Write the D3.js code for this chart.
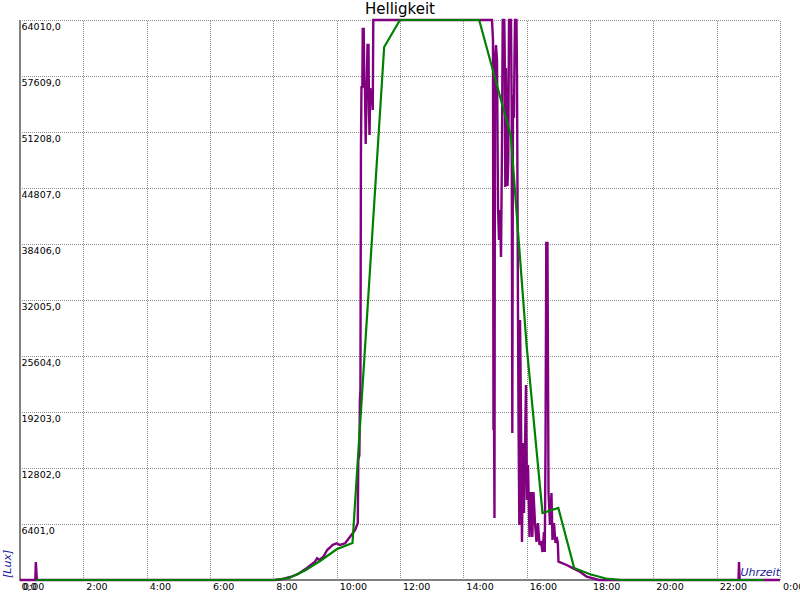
<!DOCTYPE html>
<html>
<head>
<meta charset="utf-8">
<script src="https://cdn.jsdelivr.net/npm/d3@7"></script>
<style>
  html, body { margin: 0; padding: 0; background: #ffffff; }
  svg { display: block; font-family: "DejaVu Sans", sans-serif; }
</style>
</head>
<body>
<svg id="chart" width="800" height="600"></svg>
<script>
// ---- Data (time in minutes since midnight, brightness in Lux) ----
const title = "Helligkeit";
const yAxisTitle = "[Lux]";
const xAxisTitle = "Uhrzeit";

const yTicks = [0, 6401, 12802, 19203, 25604, 32005, 38406, 44807, 51208, 57609, 64010];
const yTickLabels = ["0,0", "6401,0", "12802,0", "19203,0", "25604,0", "32005,0", "38406,0", "44807,0", "51208,0", "57609,0", "64010,0"];
const xTicks = [0, 120, 240, 360, 480, 600, 720, 840, 960, 1080, 1200, 1320, 1440];
const xTickLabels = ["0:00", "2:00", "4:00", "6:00", "8:00", "10:00", "12:00", "14:00", "16:00", "18:00", "20:00", "22:00", "0:00"];

// measured brightness (purple)
const measuredTime = [
  0, 29, 30, 32, 483, 498, 512, 527, 543, 559, 563, 567, 575, 582, 589, 592, 600, 606, 616, 625,
  635, 640, 641, 643, 644, 645, 646, 647, 648.6, 649.4, 651.2, 652.4, 653.7, 655.0, 656.5, 658.4, 660.3, 661.3, 662.2, 663.7,
  665.0, 666.9, 668.4, 669.4, 894.3, 896.2, 897.1, 898.1, 899.0, 900.0, 901.9, 903.8, 905.7, 907.6, 909.5, 911.4, 913.3, 914.6, 917.6, 918.4,
  919.5, 920.8, 923.7, 925.2, 926.5, 930.3, 931.6, 932.8, 934.1, 936.0, 936.9, 937.9, 940.7, 941.7, 943.6, 944.5, 946.1, 947.4, 949.3, 951.1,
  953.0, 954.9, 958.7, 960.6, 962.5, 965.4, 968.2, 970.7, 972.9, 975.8, 978.6, 981.4, 984.3, 987.1, 990.0, 992.8, 994.3, 995.7, 997.2, 999.4,
  1001.4, 1004.2, 1007.0, 1008.9, 1011.8, 1014.6, 1016.9, 1019.0, 1020.3, 1035.8, 1048.3, 1061.0, 1073.7, 1086.2, 1097.0, 1361.4, 1362.3, 1363.6, 1440
];
const measuredLux = [
  0, 0, 2057, 0, 0, 114, 343, 686, 1337, 2092, 2480, 2286, 2663, 3429, 3806, 4001, 4195, 4001, 4195, 4915,
  5715, 6515, 13716, 14288, 20575, 21718, 49151, 56466, 56238, 62981, 62981, 57152, 56009, 49837, 54866, 61153, 61153, 53723, 50865, 56238,
  54295, 56009, 53723, 64010, 64010, 61724, 17146, 19432, 7087, 59438, 61153, 59438, 42521, 38863, 42292, 36920, 49951, 64010, 64010, 60353,
  44921, 58524, 45036, 48008, 64010, 64010, 53951, 16803, 55437, 52808, 59667, 64010, 64010, 57495, 30176, 18860, 6287, 29719, 18632, 4344,
  15660, 7658, 22289, 9144, 13145, 4915, 10059, 4915, 10059, 6515, 4344, 6515, 4001, 4458, 3201, 5487, 3201, 15202, 38520, 38520,
  9944, 6287, 9944, 4572, 6515, 4229, 4915, 4229, 2092, 1715, 1337, 949, 377, 194, 0, 0, 2057, 0, 0
];

// half-hourly average (green)
const averageTime = [
  30, 60, 90, 120, 150, 180, 210, 240, 270, 300, 330, 360, 390, 420, 450, 480,
  510, 540, 570, 600, 630, 660, 690, 720, 750, 780, 810, 840, 870, 900, 930, 960,
  990, 1020, 1050, 1080, 1110, 1140, 1170, 1200, 1230, 1260, 1290, 1320, 1350, 1380, 1410
];
const averageLux = [
  0, 0, 0, 0, 0, 0, 0, 0, 0, 0, 0, 0, 0, 0, 0, 0,
  229, 1086, 2229, 3509, 4229, 32462, 60924, 64010, 64010, 64010, 64010, 64010, 64010, 57381, 50751, 26747,
  7658, 8230, 1372, 652, 170, 0, 0, 0, 0, 0, 0, 0, 0, 0, 0
];

// ---- Chart ----
const svg = d3.select("#chart");
const plotLeft = 20, plotRight = 780, plotTop = 20, plotBottom = 580;

const x = d3.scaleLinear().domain([0, 1440]).range([plotLeft, plotRight]);
const y = d3.scaleLinear().domain([0, 64010]).range([plotBottom, plotTop]);

const gridColor = "#8c8c8c";

// Y grid + labels
const yAxis = svg.append("g")
  .attr("transform", `translate(${plotLeft},0)`)
  .call(d3.axisLeft(y).tickValues(yTicks).tickSize(-(plotRight - plotLeft))
    .tickFormat((d, i) => yTickLabels[i]));
yAxis.select(".domain").remove();
yAxis.selectAll(".tick line")
  .attr("stroke", gridColor).attr("stroke-dasharray", "1,1")
  .attr("shape-rendering", "crispEdges");
yAxis.selectAll(".tick text")
  .attr("x", 1.5).attr("y", 9.6).attr("dy", 0)
  .attr("text-anchor", "start")
  .attr("fill", "#000").style("font-size", "9.5px")
  .style("font-family", "'DejaVu Sans', sans-serif");

// X grid + labels
const xAxis = svg.append("g")
  .attr("transform", `translate(0,${plotBottom})`)
  .call(d3.axisBottom(x).tickValues(xTicks).tickSize(-(plotBottom - plotTop))
    .tickFormat((d, i) => xTickLabels[i]));
xAxis.select(".domain").remove();
xAxis.selectAll(".tick line")
  .attr("stroke", gridColor).attr("stroke-dasharray", "1,1")
  .attr("shape-rendering", "crispEdges");
xAxis.selectAll(".tick text")
  .attr("x", 2.5).attr("y", 9.6).attr("dy", 0)
  .attr("text-anchor", "start")
  .attr("fill", "#000").style("font-size", "9.5px")
  .style("font-family", "'DejaVu Sans', sans-serif");

// Axis lines
svg.append("line")
  .attr("x1", plotLeft - 0.5).attr("x2", plotLeft - 0.5)
  .attr("y1", y(64010)).attr("y2", y(0) + 1)
  .attr("stroke", "#808080").attr("stroke-width", 2)
  .attr("shape-rendering", "crispEdges");
svg.append("line")
  .attr("x1", plotLeft).attr("x2", plotRight)
  .attr("y1", y(0)).attr("y2", y(0))
  .attr("stroke", "#808080").attr("stroke-width", 2)
  .attr("shape-rendering", "crispEdges");

// Lines
const measured = measuredTime.map((t, i) => [t, measuredLux[i]]);
const average = averageTime.map((t, i) => [t, averageLux[i]]);
const line = d3.line().x(d => x(d[0])).y(d => y(d[1]));

svg.append("path")
  .datum(measured)
  .attr("d", line)
  .attr("fill", "none")
  .attr("stroke", "#800080")
  .attr("stroke-width", 2.4)
  .attr("stroke-linejoin", "miter");

svg.append("path")
  .datum(average)
  .attr("d", line)
  .attr("fill", "none")
  .attr("stroke", "#008000")
  .attr("stroke-width", 2.2);

// Titles
svg.append("text")
  .attr("x", 400).attr("y", 14)
  .attr("text-anchor", "middle")
  .style("font-size", "15px")
  .attr("fill", "#000")
  .text(title);

svg.append("text")
  .attr("transform", "translate(11,578) rotate(-90)")
  .attr("text-anchor", "start")
  .style("font-size", "11px").style("font-style", "italic")
  .attr("fill", "#1a1a99")
  .text(yAxisTitle);

svg.append("text")
  .attr("x", 780).attr("y", 576)
  .attr("text-anchor", "end")
  .style("font-size", "11px").style("font-style", "italic")
  .attr("fill", "#1a1a99")
  .text(xAxisTitle);
</script>
</body>
</html>
